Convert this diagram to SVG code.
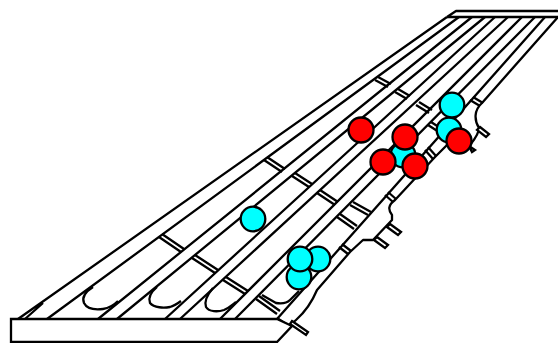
<svg xmlns="http://www.w3.org/2000/svg" width="558" height="343" viewBox="0 0 558 343">
<style>
.l{fill:none;stroke:#000;stroke-width:2.3;stroke-linejoin:round}
.r{fill:#fff;stroke:#000;stroke-width:2.3}
.c{fill:#00ffff;stroke:#000;stroke-width:2.3}
.d{fill:#ff0000;stroke:#000;stroke-width:2.3}
</style>
<rect width="558" height="343" fill="#fff"/>
<g id="connectors">
<path class="l" d="M18 319L447 17M25 319L43 303M47 319L459 17M98 319L472 17M117 319L485 17M165 319L495 17M180 319L508 17M220 319L522 17M235 319L535 17M277 319L545 17"/>
<path class="l" d="M447 17L456 11H558M447 17H558"/>
<path class="l" d="M558 17L482 103C474 110 474 120 479 128C479 134 474 140 470 145L447 145L435 157L395 200C388 205 388 210 392 215V220L373 240H363L350 252L317 290C312 302 305 312 296 320L289 326"/>
<path class="l" d="M162 234L184 249M159 237L181 252M267 157L285 169M264 160L282 172M378 77L391 84M375 80L388 87"/>
<path class="l" d="M195 255L218 270M192 258L215 273M295 173L312 184M292 176L309 187M398 89L410 96M395 92L407 99"/>
<path class="l" d="M226 277L248 291M223 280L245 294M320 190L338 202M317 193L335 205M419 102L432 110M416 105L429 113"/>
<path class="l" d="M259 296L280 311M256 299L277 314M340 214L357 226M337 217L354 229M353 202L371 212M350 205L368 215M431 122L445 131M428 125L442 134"/>
<path class="l" d="M473 97L483 103M470 100L480 106M428 147L436 156M425 150L433 159M388 192L396 199M385 195L393 202M342 244L351 251M339 247L348 254M277 318L289 326"/>
<path class="l" d="M93 287C85 292 82 298 84 303C87 309 95 310 103 309C110 308 114 305 118 301"/>
<path class="l" d="M157 287C150 293 148 298 150 303C154 308 164 308 170 307C174 306 177 304 181 301"/>
<path class="l" d="M213 288C207 295 204 301 206 307C209 312 218 312 224 310C229 308 232 305 236 302"/>
<path class="l" d="M262 295L276 303C282 304 287 303 290 300L299 291"/>
<path class="r" d="M390 224L401 232L398 235L387 227ZM377 237L388 245L385 248L374 240ZM480 127L489 134L486 137L477 130ZM292 321L308 332L306 335L290 324ZM469 146L475 150L472 152Z"/>
</g>
<g id="root"><path class="r" d="M11 319H277L292 326L277 342H11Z"/></g>
<g id="c1"><circle class="c" cx="253" cy="219" r="12.3"/></g>
<g id="c2"><circle class="c" cx="318" cy="259" r="12.3"/></g>
<g id="c3"><circle class="c" cx="299" cy="277" r="12.3"/></g>
<g id="c4"><circle class="c" cx="300" cy="259" r="12.3"/></g>
<g id="c5"><circle class="c" cx="403" cy="155" r="12.3"/></g>
<g id="c6"><circle class="c" cx="449" cy="130" r="12.3"/></g>
<g id="c7"><circle class="c" cx="452" cy="105" r="12.3"/></g>
<g id="d1"><circle class="d" cx="361" cy="130" r="12.5"/></g>
<g id="d2"><circle class="d" cx="405" cy="137" r="12.5"/></g>
<g id="d3"><circle class="d" cx="383" cy="162" r="12.5"/></g>
<g id="d4"><circle class="d" cx="415" cy="166" r="12.5"/></g>
<g id="d5"><circle class="d" cx="459" cy="141" r="12.5"/></g>
</svg>
